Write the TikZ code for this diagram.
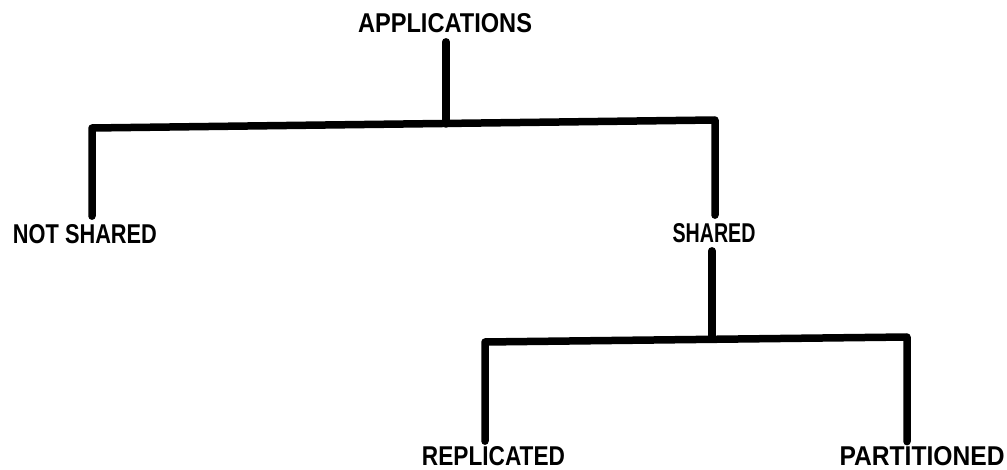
\documentclass[tikz,border=0pt]{standalone}
\usepackage{graphicx}
\usepackage{fontspec}
\setmainfont{Liberation Sans}
\newcommand{\fitlabel}[2]{\resizebox{#1pt}{19pt}{\bfseries #2}}
\begin{document}
\begin{tikzpicture}[x=1pt,y=-1pt,
  lbl/.style={inner sep=0pt, anchor=center},
  bar/.style={line width=7.5pt, line join=round, line cap=round, draw=black}]
\useasboundingbox (0,0) rectangle (1007,470);
% labels
\node[lbl] (app)  at (445,23)    {\fitlabel{174}{APPLICATIONS}};
\node[lbl] (ns)   at (85,234)    {\fitlabel{144}{NOT SHARED}};
\node[lbl] (sh)   at (714,233)   {\fitlabel{83}{SHARED}};
\node[lbl] (rep)  at (493.5,456) {\fitlabel{143}{REPLICATED}};
\node[lbl] (part) at (922,456.5) {\fitlabel{165}{PARTITIONED}};
% corner and junction points
\coordinate (c1) at (92,128);
\coordinate (c2) at (715,120);
\coordinate (j1) at (446,124);
\coordinate (c3) at (485,342);
\coordinate (c4) at (907,337);
\coordinate (j2) at (712,339);
% connectors
\draw[bar] ([yshift=-9pt]app.south -| j1) -- (j1);
\draw[bar] ([yshift=8pt]ns.north -| c1) -- (c1) -- (c2) -- ([yshift=8pt]sh.north -| c2);
\draw[bar] ([yshift=-8pt]sh.south -| j2) -- (j2);
\draw[bar] ([yshift=5pt]rep.north -| c3) -- (c3) -- (c4) -- ([yshift=5pt]part.north -| c4);
\end{tikzpicture}
\end{document}
